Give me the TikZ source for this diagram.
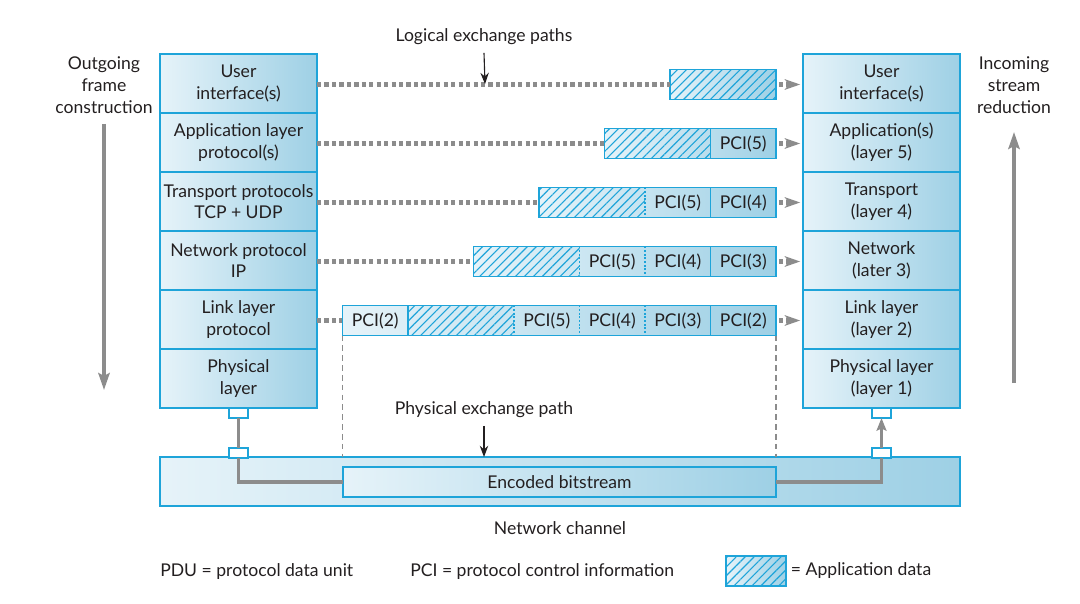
\documentclass[tikz,border=0pt]{standalone}
\usepackage{fontspec}
\setmainfont{Lato}
\usetikzlibrary{positioning,arrows.meta,patterns.meta,backgrounds}

\definecolor{edge}{HTML}{1EA4D9}
\definecolor{shadeL}{HTML}{E6F3F9}
\definecolor{shadeR}{HTML}{9ED0E5}
\definecolor{wire}{HTML}{8C8C8C}
\definecolor{ink}{HTML}{231F20}

\tikzset{
  layer/.style={draw=edge, line width=0.9pt, left color=shadeL, right color=shadeR,
    minimum width=3.925cm, minimum height=1.475cm, inner sep=0pt, outer sep=0pt,
    align=center, text=ink},
  cell/.style={minimum width=1.6375cm, minimum height=0.75cm, inner sep=0pt, outer sep=0pt, text=ink},
  hatching/.style={pattern={Lines[angle=45,distance=4.5pt,line width=0.8pt]}, pattern color=edge},
  datacell/.style={cell, minimum width=2.65cm, hatching},
  bar/.style={draw=edge, line width=0.9pt, left color=shadeL, right color=shadeR},
  solidsep/.style={draw=edge, line width=0.9pt},
  dotsep/.style={draw=edge, line width=0.9pt, dash pattern=on 1.3pt off 1.3pt},
  logical/.style={draw=wire, line width=3pt, dash pattern=on 3pt off 2.3pt},
  deliver/.style={logical, -{Stealth[length=11pt,width=7.5pt,inset=3pt]}, shorten <=2pt, shorten >=2pt},
  port/.style={draw=edge, line width=0.9pt, fill=white, minimum width=0.475cm, minimum height=0.25cm, inner sep=0pt, outer sep=0pt},
  bitline/.style={draw=wire, line width=2.8pt},
  guide/.style={draw=wire, line width=1.2pt, dash pattern=on 4pt off 3pt},
  pointer/.style={draw=ink, line width=0.8pt, -{Stealth[length=8pt,width=6pt]}},
  flow/.style={draw=wire, line width=2.8pt, -{Stealth[length=12pt,width=8pt,inset=2pt]}},
  note/.style={text=ink, align=center}
}

\begin{document}
\begin{tikzpicture}[x=0.025cm, y=-0.025cm, font=\fontsize{12.5}{15.5}\selectfont]
\useasboundingbox (0,0) rectangle (1080,604);

% sending stack
\node[layer] (L1) at (238.5, 83.5) {User\\interface(s)};
\node[layer] (L2) at (238.5, 142.5) {Application layer\\protocol(s)};
\node[layer] (L3) at (238.5, 201.5) {Transport protocols\\TCP + UDP};
\node[layer] (L4) at (238.5, 260.5) {Network protocol\\IP};
\node[layer] (L5) at (238.5, 319.5) {Link layer\\protocol};
\node[layer] (L6) at (238.5, 378.5) {Physical\\layer};

% receiving stack
\node[layer] (R1) at (881.5, 83.5) {User\\interface(s)};
\node[layer] (R2) at (881.5, 142.5) {Application(s)\\(layer 5)};
\node[layer] (R3) at (881.5, 201.5) {Transport\\(layer 4)};
\node[layer] (R4) at (881.5, 260.5) {Network\\(later 3)};
\node[layer] (R5) at (881.5, 319.5) {Link layer\\(layer 2)};
\node[layer] (R6) at (881.5, 378.5) {Physical layer\\(layer 1)};

% PDUs
\node[datacell] (r1a) at (723, 84.5) {};

\node[datacell] (r2a) at (657.5, 143.5) {};
\node[cell, right=0pt of r2a] (r2b) {PCI(5)};

\node[datacell] (r3a) at (592, 202.5) {};
\node[cell, right=0pt of r3a] (r3b) {PCI(5)};
\node[cell, right=0pt of r3b] (r3c) {PCI(4)};

\node[datacell] (r4a) at (526.5, 261.5) {};
\node[cell, right=0pt of r4a] (r4b) {PCI(5)};
\node[cell, right=0pt of r4b] (r4c) {PCI(4)};
\node[cell, right=0pt of r4c] (r4d) {PCI(3)};

\node[cell] (r5a) at (375.25, 320.5) {PCI(2)};
\node[datacell, right=0pt of r5a] (r5b) {};
\node[cell, right=0pt of r5b] (r5c) {PCI(5)};
\node[cell, right=0pt of r5c] (r5d) {PCI(4)};
\node[cell, right=0pt of r5d] (r5e) {PCI(3)};
\node[cell, right=0pt of r5e] (r5f) {PCI(2)};

\begin{scope}[on background layer]
\path[bar] (r1a.north west) rectangle (r1a.south east);
\path[bar] (r2a.north west) rectangle (r2b.south east);
\path[bar] (r3a.north west) rectangle (r3c.south east);
\path[bar] (r4a.north west) rectangle (r4d.south east);
\path[bar] (r5a.north west) rectangle (r5f.south east);
\end{scope}

\path[solidsep] (r2a.north east) -- (r2a.south east);
\path[dotsep] (r3a.north east) -- (r3a.south east);
\path[solidsep] (r3b.north east) -- (r3b.south east);
\path[dotsep] (r4a.north east) -- (r4a.south east);
\path[dotsep] (r4b.north east) -- (r4b.south east);
\path[solidsep] (r4c.north east) -- (r4c.south east);
\path[solidsep] (r5a.north east) -- (r5a.south east);
\path[dotsep] (r5b.north east) -- (r5b.south east);
\path[dotsep] (r5c.north east) -- (r5c.south east);
\path[dotsep] (r5d.north east) -- (r5d.south east);
\path[solidsep] (r5e.north east) -- (r5e.south east);

% logical exchange paths
\path[logical] (L1.east |- r1a.west) -- (r1a.west);
\path[logical] (L2.east |- r2a.west) -- (r2a.west);
\path[logical] (L3.east |- r3a.west) -- (r3a.west);
\path[logical] (L4.east |- r4a.west) -- (r4a.west);
\path[logical] (L5.east |- r5a.west) -- (r5a.west);

\path[deliver] (r1a.east) -- (R1.west |- r1a.east);
\path[deliver] (r2b.east) -- (R2.west |- r2b.east);
\path[deliver] (r3c.east) -- (R3.west |- r3c.east);
\path[deliver] (r4d.east) -- (R4.west |- r4d.east);
\path[deliver] (r5f.east) -- (R5.west |- r5f.east);

% network channel
\node[layer, minimum width=20cm, minimum height=1.225cm] (chan) at (560, 481.5) {};
\path[guide] (r5a.south west) -- (r5a.south west |- chan.north);
\path[guide] (r5f.south east) -- (r5f.south east |- chan.north);

\node[port] (pL1) at (238.5, 413) {};
\node[port] (pL2) at (238.5, 453) {};
\node[port] (pR1) at (881.5, 413) {};
\node[port] (pR2) at (881.5, 453) {};

\node[layer, minimum width=10.825cm, minimum height=0.75cm] (bits) at (559.5, 482) {Encoded bitstream};

\path[bitline] (pL1.south) -- (pL2.north);
\path[bitline] (pL2.south) |- (bits.west);
\path[bitline] (bits.east) -| (pR2.south);
\path[bitline, -{Stealth[length=9pt,width=7pt,inset=1.5pt]}] (pR2.north) -- (pR1.south);

% labels
\node[note] (logicaltxt) at (484, 37) {Logical exchange paths};
\coordinate (logicalhit) at (485, 84);
\path[pointer] ([yshift=-2pt]logicaltxt.south) -- (logicalhit);

\node[note] (physicaltxt) at (484, 410) {Physical exchange path};
\path[pointer] ([yshift=-2pt]physicaltxt.south) -- (physicaltxt.south |- chan.north);

\node[note] (outtxt) at (104, 85) {Outgoing\\frame\\construction};
\coordinate (outend) at (104, 390);
\path[flow] (104, 124) -- (outend);

\node[note] (intxt) at (1014, 85) {Incoming\\stream\\reduction};
\coordinate (inend) at (1014, 132);
\path[flow] (1014, 383) -- (inend);

\node[note] (chantxt) at (560, 528) {Network channel};

% key
\node[note, anchor=west, inner sep=0pt] (pdukey) at (160, 572) {PDU = protocol data unit};
\node[note, anchor=west, inner sep=0pt] (pcikey) at (410, 572) {PCI = protocol control information};
\node[cell, minimum width=1.5cm, bar, postaction={hatching}] (datakey) at (756, 571) {};
\node[note, anchor=west] (datakeytxt) at (datakey.east) {= Application data};
\end{tikzpicture}
\end{document}
